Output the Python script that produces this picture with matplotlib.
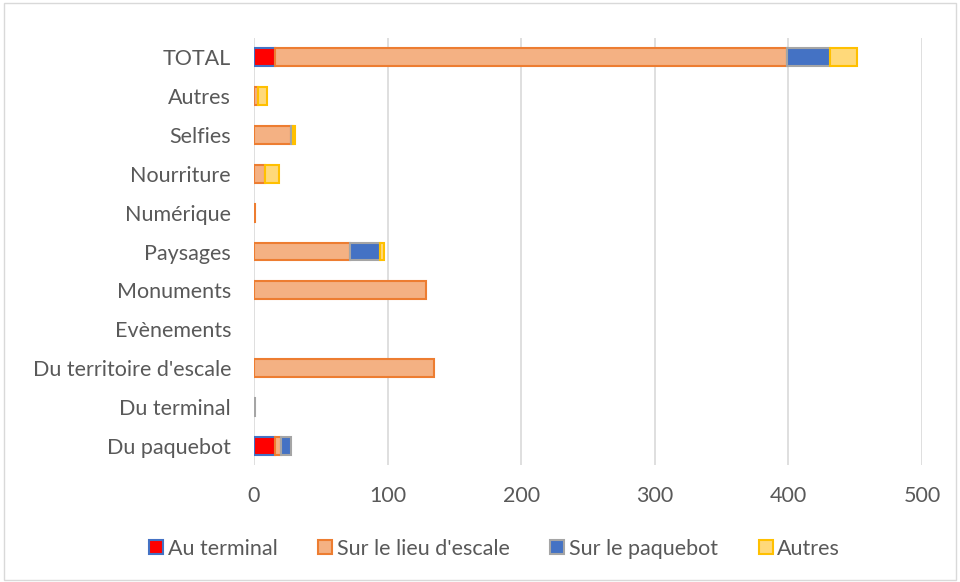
import matplotlib.pyplot as plt
import numpy as np
from matplotlib.patches import Rectangle

plt.rcParams['font.family'] = ['Lato', 'DejaVu Sans']

categories = ['Du paquebot', 'Du terminal', "Du territoire d'escale", 'Evènements',
              'Monuments', 'Paysages', 'Numérique', 'Nourriture', 'Selfies',
              'Autres', 'TOTAL']
au_terminal = [16, 0, 0, 0, 0, 0, 0, 0, 0, 0, 16]
lieu_escale = [4, 0, 135, 0, 129, 72, 1, 8, 28, 3, 383]
paquebot = [8, 1, 0, 0, 0, 22, 0, 0, 1, 0, 32]
autres = [0, 0, 0, 0, 0, 3, 0, 11, 2, 7, 20]
xticks = [0, 100, 200, 300, 400, 500]

series = [
    ('Au terminal', au_terminal, '#FF0000', '#4472C4'),
    ("Sur le lieu d'escale", lieu_escale, '#F4B183', '#ED7D31'),
    ('Sur le paquebot', paquebot, '#4472C4', '#A5A5A5'),
    ('Autres', autres, '#FFD97A', '#FFC000'),
]

fig = plt.figure(figsize=(9.6, 5.82), dpi=100)
fig.patches.append(Rectangle((0.004, 0.004), 0.992, 0.99, transform=fig.transFigure,
                             fill=False, edgecolor='#D9D9D9', linewidth=1))
ax = fig.add_axes([254/960, 1 - 465/582, (922 - 254)/960, (465 - 38)/582])

y = np.arange(len(categories))
left = np.zeros(len(categories))
for name, vals, fc, ec in series:
    vals = np.array(vals, dtype=float)
    nz = vals > 0
    # zero-length segments are skipped so their outlines don't show
    ax.barh(y[nz], vals[nz], left=left[nz], height=0.46, color=fc, edgecolor=ec,
            linewidth=1.5, label=name, zorder=3)
    left += vals

ax.set_xlim(0, 500)
ax.set_ylim(-0.5, len(categories) - 0.5)
ax.set_xticks(xticks)
ax.set_yticks(y)
ax.set_yticklabels(categories)
ax.grid(axis='x', color='#D9D9D9', linewidth=1.2, zorder=0)
for s in ax.spines.values():
    s.set_visible(False)
ax.tick_params(length=0, labelsize=15.5, colors='#595959', pad=16.5)
ax.tick_params(axis='x', pad=15)

ax.legend(loc='center', bbox_to_anchor=(0.36, -0.196), ncol=4, frameon=False,
          fontsize=15.5, labelcolor='#595959', handlelength=0.65, handleheight=0.65,
          handletextpad=0.2, columnspacing=1.9)

fig.savefig('out.png', dpi=100)
